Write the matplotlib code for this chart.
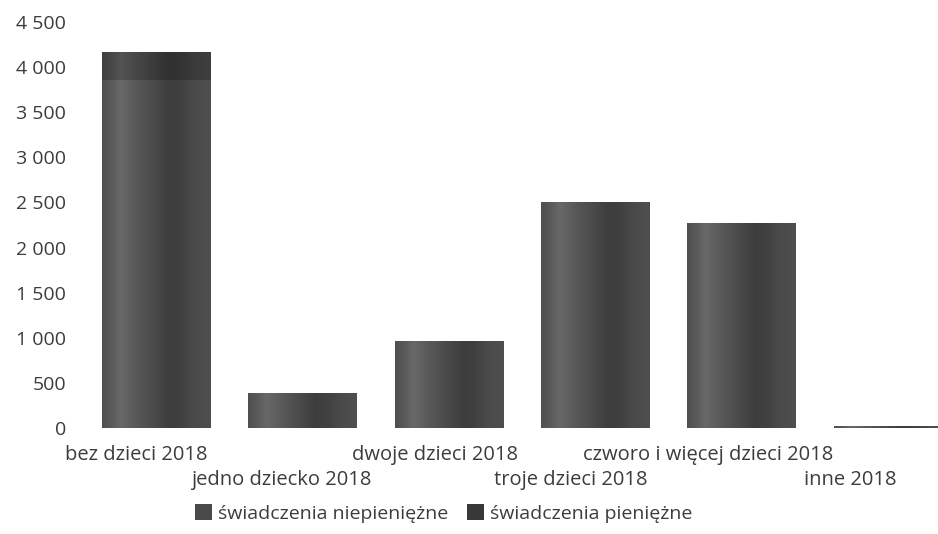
import numpy as np
import matplotlib
matplotlib.use("Agg")
import matplotlib.pyplot as plt
from matplotlib.patches import Patch

# ---- data ----
categories = ["bez dzieci 2018", "jedno dziecko 2018", "dwoje dzieci 2018",
              "troje dzieci 2018", "czworo i więcej dzieci 2018", "inne 2018"]
niepieniezne = [3856, 390, 967, 2503, 2267, 22]
pieniezne = [310, 0, 0, 0, 0, 0]
series_names = ["świadczenia niepieniężne", "świadczenia pieniężne"]
yticks = [0, 500, 1000, 1500, 2000, 2500, 3000, 3500, 4000, 4500]

# ---- layout / style ----
label_dx = [-0.135, -0.145, -0.095, -0.17, -0.225, -0.26]
label_row = [0, 1, 0, 1, 0, 1]
text_col = "#3c3c3c"
plt.rcParams['font.family'] = ['Open Sans', 'DejaVu Sans']

fig = plt.figure(figsize=(9.38, 5.34), dpi=100)
ax = fig.add_axes([83/938, 106/534, 878/938, 406/534])

x = np.arange(len(categories))
width = 0.74
b1 = ax.bar(x, niepieniezne, width, color="#4a4a4a", zorder=1)
b2 = ax.bar(x, pieniezne, width, bottom=niepieniezne, color="#383838", zorder=1)

# cylinder-like shading
pos = np.array([0, 0.08, 0.17, 0.28, 0.45, 0.62, 0.72, 0.85, 1.0])
val = np.array([0.31, 0.35, 0.41, 0.36, 0.30, 0.24, 0.25, 0.29, 0.31])
xs = np.linspace(0, 1, 200)
prof = np.interp(xs, pos, val)

def shade(rect, factor):
    h = rect.get_height()
    if h <= 0:
        return
    x0, y0, w = rect.get_x(), rect.get_y(), rect.get_width()
    g = np.clip(prof * factor, 0, 1)
    img = np.stack([g, g, g], axis=-1)[None, :, :].repeat(2, axis=0)
    im = ax.imshow(img, extent=[x0, x0 + w, y0, y0 + h], aspect='auto',
                   interpolation='bilinear', zorder=2)
    im.set_clip_path(rect)

for r in b1:
    shade(r, 1.0)
for r in b2:
    shade(r, 0.8)

ax.set_xlim(-0.5, len(categories) - 0.5)
ax.set_ylim(0, 4500)
ax.set_yticks(yticks)
ax.set_yticklabels([f"{v:,}".replace(",", " ") for v in yticks],
                   fontsize=14, color=text_col)
ax.tick_params(axis='y', length=0, pad=12)
ax.set_xticks([])
for s in ax.spines.values():
    s.set_visible(False)

for i, c in enumerate(categories):
    yoff = -0.066 if label_row[i] == 0 else -0.128
    ax.text(i + label_dx[i], yoff, c, transform=ax.get_xaxis_transform(),
            ha='center', va='center', fontsize=14.5, color=text_col, clip_on=False)

handles = [Patch(facecolor="#4a4a4a"), Patch(facecolor="#383838")]
fig.legend(handles, series_names, loc='center', bbox_to_anchor=(0.473, 0.038),
           ncol=2, frameon=False, fontsize=14, handlelength=0.85, handleheight=0.85,
           handletextpad=0.3, columnspacing=1.0, labelcolor=text_col)

fig.savefig("out.png", dpi=100)
